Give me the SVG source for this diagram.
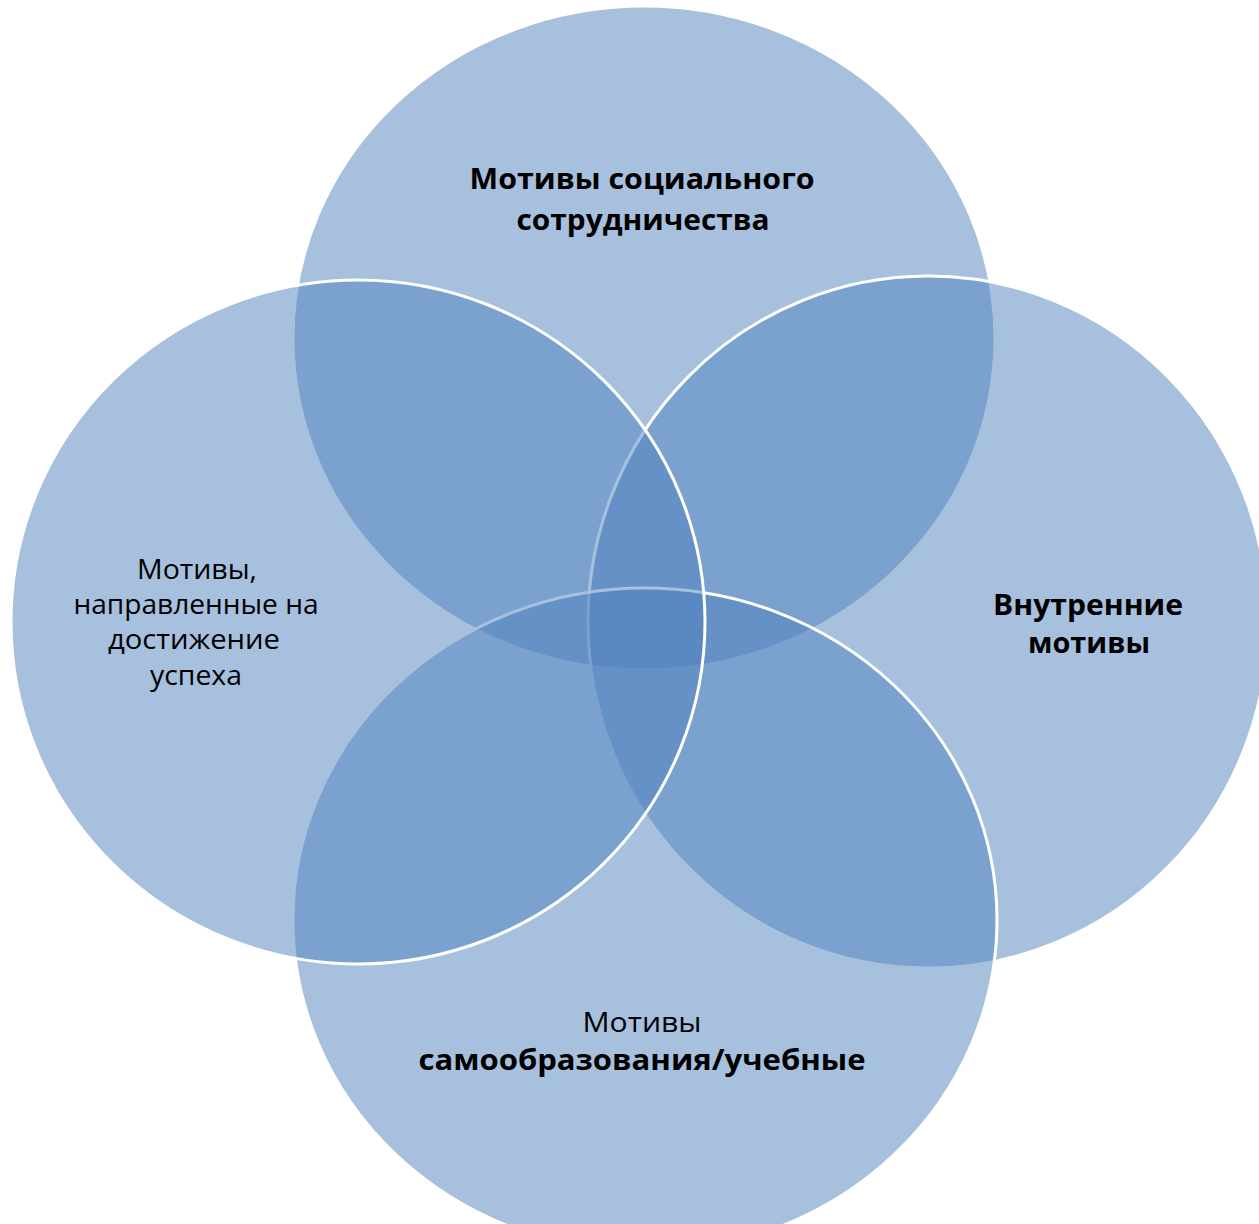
<svg xmlns="http://www.w3.org/2000/svg" width="1259" height="1224" viewBox="0 0 1259 1224">
<style>
.c{fill:#4F81BD;fill-opacity:0.5;stroke:#FFFFFF;stroke-width:3}
.t{font-family:"Open Sans","Noto Sans","DejaVu Sans",sans-serif;font-size:27px;fill:#000;text-anchor:middle}
.b{font-weight:bold;font-size:28px}
</style>
<rect width="1259" height="1224" fill="#FFFFFF"/>
<g id="top"><ellipse class="c" cx="644" cy="338" rx="351" ry="332"/></g>
<g id="right"><ellipse class="c" cx="928" cy="622" rx="340" ry="346"/></g>
<g id="bottom"><ellipse class="c" cx="645" cy="920" rx="352" ry="332"/></g>
<g id="left"><ellipse class="c" cx="358" cy="622" rx="347" ry="342"/></g>
<g id="labels">
<g id="top-label"><text class="t b" x="642" y="189" textLength="345" lengthAdjust="spacingAndGlyphs">Мотивы социального</text><text class="t b" x="643" y="230" textLength="253" lengthAdjust="spacingAndGlyphs">сотрудничества</text></g>
<g id="left-label"><text class="t" x="197" y="579" textLength="120" lengthAdjust="spacingAndGlyphs">Мотивы,</text><text class="t" x="196" y="614" textLength="245" lengthAdjust="spacingAndGlyphs">направленные на</text><text class="t" x="194" y="649" textLength="172" lengthAdjust="spacingAndGlyphs">достижение</text><text class="t" x="196" y="685" textLength="92" lengthAdjust="spacingAndGlyphs">успеха</text></g>
<g id="right-label"><text class="t b" x="1088" y="615" textLength="190" lengthAdjust="spacingAndGlyphs">Внутренние</text><text class="t b" x="1089" y="653" textLength="122" lengthAdjust="spacingAndGlyphs">мотивы</text></g>
<g id="bottom-label"><text class="t" x="642" y="1032" textLength="119" lengthAdjust="spacingAndGlyphs">Мотивы</text><text class="t b" x="642" y="1070" textLength="447" lengthAdjust="spacingAndGlyphs">самообразования/учебные</text></g>
</g>
<g id="connectors"/>
</svg>
